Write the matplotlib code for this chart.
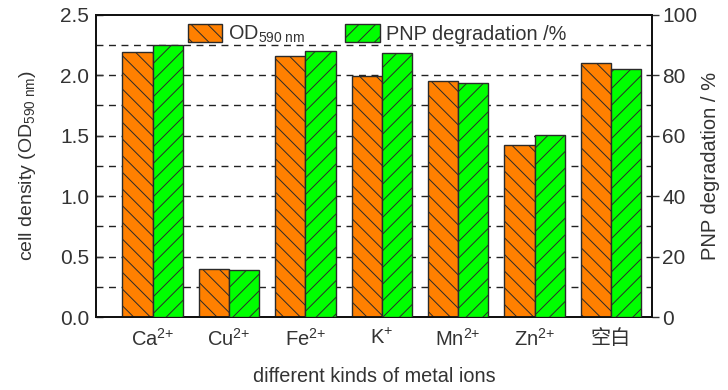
import matplotlib
matplotlib.use("Agg")
import matplotlib.pyplot as plt
import numpy as np

# data
ions = ["Ca$^{\\text{2+}}$", "Cu$^{\\text{2+}}$", "Fe$^{\\text{2+}}$", "K$^{\\text{+}}$",
        "Mn$^{\\text{2+}}$", "Zn$^{\\text{2+}}$", "空白"]
od590 = [2.19, 0.40, 2.16, 1.99, 1.95, 1.42, 2.10]
pnp_deg = [90.0, 15.7, 88.0, 87.5, 77.3, 60.3, 82.2]

plt.rcParams["font.family"] = ["Liberation Sans", "Noto Sans CJK SC", "DejaVu Sans"]
plt.rcParams["mathtext.fontset"] = "custom"
plt.rcParams["mathtext.rm"] = "Liberation Sans"
plt.rcParams["mathtext.it"] = "Liberation Sans"
plt.rcParams["hatch.linewidth"] = 0.7
txt = "#333333"

fig = plt.figure(figsize=(7.28, 3.9), dpi=100)
ax = fig.add_axes([0.132, 0.187, 0.764, 0.775])
ax2 = ax.twinx()

x = np.arange(len(ions))
w = 0.395

b1 = ax.bar(x - w / 2, od590, w, color="#ff8000", edgecolor="#2a2a2a",
            hatch="\\\\", linewidth=1.0, zorder=3, label="OD$_{\\text{590 nm}}$")
b2 = ax2.bar(x + w / 2, pnp_deg, w, color="#00ff00", edgecolor="#2a2a2a",
             hatch="//", linewidth=1.0, zorder=3, label="PNP degradation /%")

# dashed grid every 0.25
for yv in np.arange(0.25, 2.5, 0.25):
    ax.axhline(yv, color="#222222", lw=1.0, ls=(0, (5, 4)), zorder=1)

ax.set_xlim(-0.74, 6.54)
ax.set_ylim(0, 2.5)
ax2.set_ylim(0, 100)
ax.set_yticks(np.arange(0, 2.51, 0.5))
ax.set_yticklabels(["0.0", "0.5", "1.0", "1.5", "2.0", "2.5"])
ax2.set_yticks(np.arange(0, 101, 20))
ax.set_xticks(x)
ax.set_xticklabels(ions)
for lab in ax.get_xticklabels():
    if lab.get_text() == "空白":
        lab.set_family(["Noto Sans CJK SC"])
        lab.set_color("#777777")

ax.tick_params(axis="y", direction="in", length=5, width=1, labelsize=15, colors=txt, pad=5)
ax.tick_params(axis="x", length=0, labelsize=14.5, colors=txt, pad=8)
ax2.tick_params(axis="y", direction="out", length=5, width=1, labelsize=15, colors=txt, pad=2)
for a in (ax, ax2):
    for s in a.spines.values():
        s.set_linewidth(1.3)
        s.set_color("#111111")

ax.set_ylabel("cell density (OD$_{\\text{590 nm}}$)", fontsize=14, color=txt, labelpad=16)
ax2.set_ylabel("PNP degradation / %", fontsize=14.5, color=txt, labelpad=3)
ax.set_xlabel("different kinds of metal ions", fontsize=14.3, color=txt, labelpad=12)

leg = ax.legend(handles=[b1, b2], loc="upper center", bbox_to_anchor=(0.505, 0.996),
                ncol=2, frameon=False, fontsize=14.3, handlelength=1.75,
                handleheight=1.05, columnspacing=2.0, handletextpad=0.3,
                borderaxespad=0.0)
for t in leg.get_texts():
    t.set_color(txt)

fig.savefig("out.png", dpi=100)
